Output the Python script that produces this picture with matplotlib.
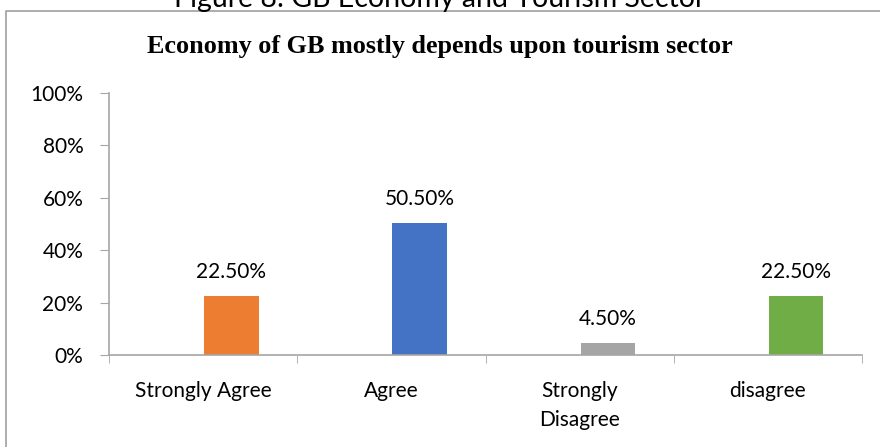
import matplotlib
matplotlib.use("Agg")
import matplotlib.pyplot as plt
from matplotlib.lines import Line2D

categories = ["Strongly Agree", "Agree", "Strongly\nDisagree", "disagree"]
values = [22.5, 50.5, 4.5, 22.5]
labels = ["22.50%", "50.50%", "4.50%", "22.50%"]
colors = ["#ED7D31", "#4472C4", "#A5A5A5", "#70AD47"]
yticks = [0, 20, 40, 60, 80, 100]

plt.rcParams['font.family'] = ['Lato', 'DejaVu Sans']

fig = plt.figure(figsize=(8.8, 4.47), dpi=100)
ax = fig.add_axes([109/880, 1-355/447, (862-109)/880, (355-93)/447])

xs = list(range(len(categories)))
# excel put the bars a bit right of the category centre
bar_x = [x + 0.15 for x in xs]
ax.bar(bar_x, values, width=0.29, color=colors)
for bx, v, lab in zip(bar_x, values, labels):
    ax.annotate(lab, (bx, v), xytext=(0, 13), textcoords="offset points",
                ha="center", va="baseline", fontsize=15, color="#000000")

ax.set_xlim(-0.5, 3.5)
ax.set_ylim(0, 100)
ax.set_yticks(yticks)
ax.set_yticklabels([f"{t}%" for t in yticks], fontsize=15)
ax.set_xticks(xs)
ax.set_xticklabels(categories, fontsize=15, linespacing=1.55, va="top")
ax.set_xticks([-0.5, 0.5, 1.5, 2.5, 3.5], minor=True)
ax.tick_params(axis="x", which="major", length=0, pad=19)
ax.tick_params(axis="x", which="minor", length=6, color="#A6A6A6", direction="out")
ax.tick_params(axis="y", length=6.5, color="#A6A6A6", pad=12)

for s in ["top", "right"]:
    ax.spines[s].set_visible(False)
for s in ["left", "bottom"]:
    ax.spines[s].set_color("#A6A6A6")
    ax.spines[s].set_linewidth(1.2)

fig.text(0.5, 1-53/447, "Economy of GB mostly depends upon tourism sector",
         family="Liberation Serif", fontweight="bold", fontsize=18.8,
         ha="center", va="baseline")
# caption cut off at the top of the picture
fig.text(0.5, 1-7/447, "Figure 8: GB Economy and Tourism Sector",
         fontsize=20.5, ha="center", va="baseline")

# chart area border (left and top edges visible)
fig.add_artist(Line2D([6/880, 6/880, 1.0], [0.0, 1-11/447, 1-11/447],
                      transform=fig.transFigure, color="#A0A0A0", lw=1.2))

fig.savefig("out.png", dpi=100)
